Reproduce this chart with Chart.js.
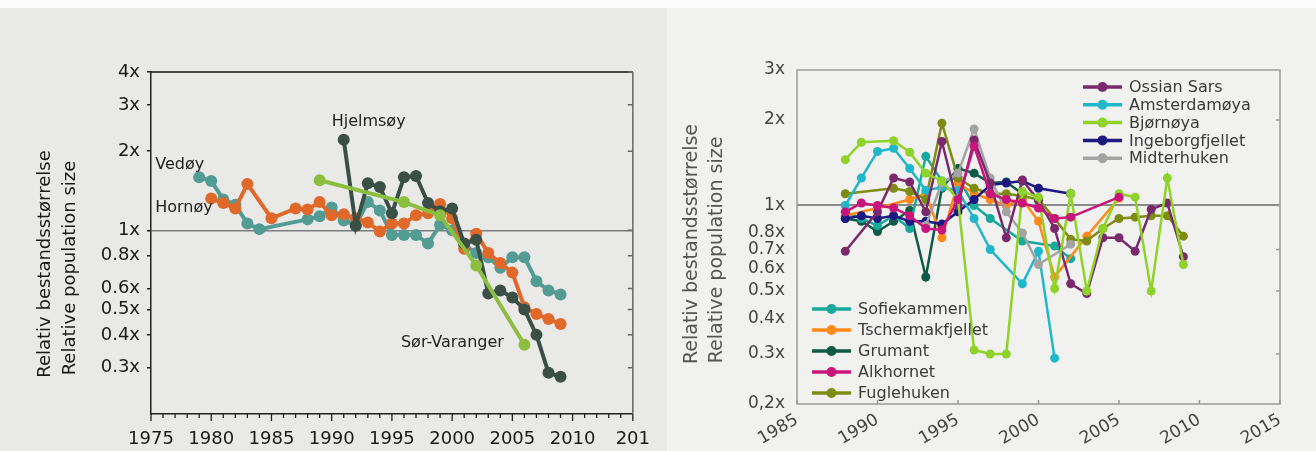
<!DOCTYPE html>
<html>
<head>
<meta charset="utf-8">
<script src="https://cdn.jsdelivr.net/npm/chart.js@4.4.0/dist/chart.umd.min.js"></script>
<style>
  html, body { margin: 0; padding: 0; }
  body { width: 1316px; height: 451px; background: #e9e9e8; position: relative; overflow: hidden; }
  #topStrip { position: absolute; left: 0; top: 0; width: 1316px; height: 8px; background: #fbfbfb; }
  #rightBg { position: absolute; left: 667px; top: 8px; width: 649px; height: 443px; background: #f1f1f0; }
  #leftWrap { position: absolute; left: 0; top: 0; width: 665px; height: 451px; }
  #rightWrap { position: absolute; left: 665px; top: 0; width: 651px; height: 451px; }
</style>
</head>
<body>
<div id="topStrip"></div>
<div id="rightBg"></div>
<div id="leftWrap"><canvas id="leftChart" width="665" height="451"></canvas></div>
<div id="rightWrap"><canvas id="rightChart" width="651" height="451"></canvas></div>
<script>
// ---- left panel: Finnmark colonies ----
const yearsVedoy = [1979, 1980, 1981, 1982, 1983, 1984, 1988, 1989, 1990, 1991, 1992, 1993, 1994, 1995, 1996, 1997, 1998, 1999, 2000, 2001, 2002, 2003, 2004, 2005, 2006, 2007, 2008, 2009];
const vedoy = [1.59, 1.54, 1.31, 1.25, 1.06, 1.01, 1.10, 1.13, 1.22, 1.09, 1.05, 1.28, 1.19, 0.96, 0.96, 0.96, 0.89, 1.05, 1.00, 0.88, 0.82, 0.79, 0.72, 0.79, 0.79, 0.64, 0.59, 0.57];
const yearsHornoy = [1980, 1981, 1982, 1983, 1985, 1987, 1988, 1989, 1990, 1991, 1992, 1993, 1994, 1995, 1996, 1997, 1998, 1999, 2000, 2001, 2002, 2003, 2004, 2005, 2006, 2007, 2008, 2009];
const hornoy = [1.32, 1.27, 1.21, 1.50, 1.11, 1.21, 1.20, 1.28, 1.14, 1.15, 1.11, 1.07, 0.99, 1.06, 1.06, 1.14, 1.16, 1.26, 1.11, 0.85, 0.97, 0.82, 0.75, 0.69, 0.51, 0.48, 0.46, 0.44];
const yearsHjelmsoy = [1991, 1992, 1993, 1994, 1995, 1996, 1997, 1998, 1999, 2000, 2001, 2002, 2003, 2004, 2005, 2006, 2007, 2008, 2009];
const hjelmsoy = [2.21, 1.04, 1.51, 1.46, 1.16, 1.59, 1.61, 1.27, 1.18, 1.21, 0.89, 0.92, 0.575, 0.59, 0.555, 0.50, 0.40, 0.287, 0.277];
const yearsSorVaranger = [1989, 1996, 1999, 2002, 2006];
const sorVaranger = [1.55, 1.28, 1.14, 0.735, 0.367];

const leftYTicks = [0.3, 0.4, 0.5, 0.6, 0.8, 1, 2, 3, 4];
const leftXLabels = [1975, 1980, 1985, 1990, 1995, 2000, 2005, 2010, 2015];

// ---- right panel: Svalbard colonies ----
const yearsOssian = [1988, 1990, 1991, 1992, 1993, 1994, 1995, 1996, 1997, 1998, 1999, 2000, 2001, 2002, 2003, 2004, 2005, 2006, 2007, 2008, 2009];
const ossianSars = [0.69, 0.95, 1.25, 1.21, 0.95, 1.68, 1.0, 1.7, 1.2, 0.77, 1.23, 1.04, 0.83, 0.53, 0.49, 0.77, 0.77, 0.69, 0.97, 1.02, 0.66];
const yearsAmsterdam = [1988, 1989, 1990, 1991, 1992, 1993, 1994, 1995, 1996, 1997, 1999, 2000, 2001];
const amsterdamoya = [1.0, 1.25, 1.55, 1.59, 1.35, 1.13, 1.16, 1.13, 0.9, 0.7, 0.53, 0.69, 0.29];
const yearsBjornoya = [1988, 1989, 1991, 1992, 1993, 1994, 1995, 1996, 1997, 1998, 1999, 2000, 2001, 2002, 2003, 2004, 2005, 2006, 2007, 2008, 2009];
const bjornoya = [1.45, 1.67, 1.69, 1.54, 1.3, 1.22, 1.05, 0.31, 0.30, 0.30, 1.12, 1.07, 0.51, 1.1, 0.5, 0.83, 1.1, 1.07, 0.5, 1.25, 0.62];
const yearsIngeborg = [1988, 1989, 1990, 1991, 1992, 1993, 1994, 1995, 1996, 1997, 1998, 1999, 2000, 2002];
const ingeborgfjellet = [0.9, 0.92, 0.9, 0.92, 0.88, 0.88, 0.86, 0.95, 1.05, 1.18, 1.2, 1.22, 1.15, 1.1];
const yearsMidterhuken = [1993, 1994, 1995, 1996, 1997, 1998, 1999, 2000, 2002];
const midterhuken = [0.85, 1.2, 1.3, 1.86, 1.25, 0.95, 0.8, 0.62, 0.73];
const yearsSofiekammen = [1988, 1989, 1990, 1991, 1992, 1993, 1994, 1995, 1996, 1997, 1999, 2001, 2002];
const sofiekammen = [0.95, 0.9, 0.85, 0.92, 0.83, 1.49, 1.22, 1.25, 1.0, 0.9, 0.75, 0.72, 0.65];
const yearsTschermak = [1988, 1990, 1992, 1993, 1994, 1995, 1996, 1997, 1998, 1999, 2000, 2001, 2003, 2005];
const tschermakfjellet = [0.92, 0.98, 1.05, 1.1, 0.77, 1.2, 1.1, 1.05, 1.0, 1.05, 0.88, 0.56, 0.78, 1.06];
const yearsGrumant = [1988, 1989, 1990, 1991, 1992, 1993, 1994, 1995, 1996, 1997, 1998, 1999];
const grumant = [0.9, 0.88, 0.81, 0.88, 0.96, 0.56, 1.15, 1.35, 1.3, 1.2, 1.21, 1.1];
const yearsAlkhornet = [1988, 1989, 1990, 1991, 1992, 1993, 1994, 1995, 1996, 1997, 1998, 1999, 2000, 2001, 2002, 2005];
const alkhornet = [0.95, 1.02, 1.0, 0.98, 0.92, 0.83, 0.82, 1.05, 1.62, 1.1, 1.05, 1.02, 0.98, 0.9, 0.91, 1.07];
const yearsFuglehuken = [1988, 1991, 1992, 1993, 1994, 1995, 1996, 1997, 1998, 1999, 2000, 2001, 2002, 2003, 2004, 2005, 2006, 2007, 2008, 2009];
const fuglehuken = [1.1, 1.15, 1.12, 1.05, 1.95, 1.25, 1.15, 1.1, 1.1, 1.08, 1.05, 0.9, 0.76, 0.75, 0.83, 0.9, 0.91, 0.92, 0.92, 0.78];

const rightYTicks = [0.2, 0.3, 0.4, 0.5, 0.6, 0.7, 0.8, 1, 2, 3];
const rightYLabels = ['0,2x', '0.3x', '0.4x', '0.5x', '0.6x', '0.7x', '0.8x', '1x', '2x', '3x'];
const rightXTicks = [1985, 1990, 1995, 2000, 2005, 2010, 2015];

const FONT = 'DejaVu Sans';
Chart.defaults.font.family = FONT;

function series(label, years, values, color, width, radius) {
    return {
        label: label,
        data: years.map((yr, i) => ({ x: yr, y: values[i] })),
        borderColor: color,
        backgroundColor: color,
        pointBackgroundColor: color,
        pointBorderWidth: 0,
        pointRadius: radius,
        borderWidth: width,
        tension: 0,
        fill: false
    };
}

function rotatedText(ctx, text, x, y, font, color) {
    ctx.save();
    ctx.translate(x, y);
    ctx.rotate(-Math.PI / 2);
    ctx.font = font;
    ctx.fillStyle = color;
    ctx.textAlign = 'center';
    ctx.textBaseline = 'middle';
    ctx.fillText(text, 0, 0);
    ctx.restore();
}

const leftDecor = {
    id: 'leftDecor',
    afterDraw(chart) {
        const { ctx, chartArea: a, scales: { x, y } } = chart;
        ctx.save();
        // top border
        ctx.strokeStyle = '#111';
        ctx.lineWidth = 1.5;
        ctx.beginPath();
        ctx.moveTo(a.left, a.top);
        ctx.lineTo(a.right, a.top);
        ctx.stroke();
        // right border with inward ticks
        ctx.strokeStyle = '#666';
        ctx.beginPath();
        ctx.moveTo(a.right, a.top);
        ctx.lineTo(a.right, a.bottom);
        leftYTicks.forEach(v => {
            const py = y.getPixelForValue(v);
            ctx.moveTo(a.right, py);
            ctx.lineTo(a.right - 5, py);
        });
        ctx.stroke();
        // year ticks on x axis
        ctx.strokeStyle = '#222';
        ctx.lineWidth = 1.3;
        ctx.beginPath();
        for (let yr = 1975; yr <= 2015; yr++) {
            const px = x.getPixelForValue(yr);
            ctx.moveTo(px, a.bottom);
            ctx.lineTo(px, a.bottom + (yr % 5 === 0 ? 7 : 4));
        }
        ctx.stroke();
        // colony names
        ctx.font = '16px ' + FONT;
        ctx.fillStyle = '#222';
        ctx.textBaseline = 'middle';
        ctx.textAlign = 'left';
        ctx.fillText('Vedøy', x.getPixelForValue(1975.35), y.getPixelForValue(1.77));
        ctx.fillText('Hornøy', x.getPixelForValue(1975.35), y.getPixelForValue(1.22));
        ctx.fillText('Hjelmsøy', x.getPixelForValue(1990.0), y.getPixelForValue(2.58));
        ctx.fillText('Sør-Varanger', x.getPixelForValue(1995.75), y.getPixelForValue(0.372));
        ctx.restore();
        // axis title
        rotatedText(ctx, 'Relativ bestandsstørrelse', 45, 264, '18px ' + FONT, '#1a1a1a');
        rotatedText(ctx, 'Relative population size', 70, 268, '18px ' + FONT, '#1a1a1a');
    }
};

new Chart(document.getElementById('leftChart'), {
    type: 'line',
    data: {
        datasets: [
            series('Sør-Varanger', yearsSorVaranger, sorVaranger, '#8cbf40', 4, 6),
            series('Hjelmsøy', yearsHjelmsoy, hjelmsoy, '#3a5047', 4, 6),
            series('Hornøy', yearsHornoy, hornoy, '#e0692a', 4, 6),
            series('Vedøy', yearsVedoy, vedoy, '#529c94', 4, 6)
        ]
    },
    options: {
        responsive: false,
        animation: false,
        layout: { padding: { top: 72, right: 24, left: 0, bottom: 0 } },
        plugins: { legend: { display: false }, tooltip: { enabled: false } },
        scales: {
            x: {
                type: 'linear', min: 1975, max: 2015,
                afterBuildTicks: s => { s.ticks = leftXLabels.map(v => ({ value: v })); },
                afterFit: s => { s.height = 37; },
                grid: { display: false, drawTicks: false },
                border: { color: '#222', width: 1.5 },
                ticks: {
                    autoSkip: false, maxRotation: 0, padding: 15, color: '#1a1a1a',
                    font: { size: 18 },
                    callback: v => v === 2015 ? '201' : String(v)
                }
            },
            y: {
                type: 'logarithmic', min: 0.2, max: 4,
                afterBuildTicks: s => { s.ticks = leftYTicks.map(v => ({ value: v })); },
                afterFit: s => { s.width = 151; },
                grid: {
                    color: c => (c.tick && c.tick.value === 1) ? '#7d7d7d' : 'rgba(0,0,0,0)',
                    lineWidth: 1.5,
                    drawTicks: true, tickLength: 4, tickColor: '#222'
                },
                border: { color: '#222', width: 1.5 },
                ticks: {
                    padding: 7, color: '#1a1a1a', font: { size: 18 },
                    callback: v => v + 'x'
                }
            }
        }
    },
    plugins: [leftDecor]
});

// ---- right panel ----
const rightLegendTop = [
    ['Ossian Sars', '#7a2a6c'],
    ['Amsterdamøya', '#1fb7c9'],
    ['Bjørnøya', '#8fd22a'],
    ['Ingeborgfjellet', '#1c1a82'],
    ['Midterhuken', '#a3a3a3']
];
const rightLegendBottom = [
    ['Sofiekammen', '#17a99b'],
    ['Tschermakfjellet', '#ff8a1a'],
    ['Grumant', '#0e5a47'],
    ['Alkhornet', '#c9157b'],
    ['Fuglehuken', '#7e8c14']
];

function drawLegend(ctx, items, x0, y0, step) {
    ctx.save();
    ctx.font = '16px ' + FONT;
    ctx.textBaseline = 'middle';
    ctx.textAlign = 'left';
    items.forEach((it, i) => {
        const yy = y0 + i * step;
        ctx.strokeStyle = it[1];
        ctx.fillStyle = it[1];
        ctx.lineWidth = 3.5;
        ctx.beginPath();
        ctx.moveTo(x0, yy);
        ctx.lineTo(x0 + 39, yy);
        ctx.stroke();
        ctx.beginPath();
        ctx.arc(x0 + 19.5, yy, 5, 0, Math.PI * 2);
        ctx.fill();
        ctx.fillStyle = '#3a3a3a';
        ctx.fillText(it[0], x0 + 46, yy + 1);
    });
    ctx.restore();
}

const rightDecor = {
    id: 'rightDecor',
    afterDraw(chart) {
        const { ctx, chartArea: a, scales: { x, y } } = chart;
        ctx.save();
        ctx.strokeStyle = '#9a9a9a';
        ctx.lineWidth = 1.5;
        ctx.strokeRect(a.left, a.top, a.right - a.left, a.bottom - a.top);
        ctx.beginPath();
        [2, 1, 0.7, 0.5, 0.3].forEach(v => {
            const py = y.getPixelForValue(v);
            ctx.moveTo(a.right, py);
            ctx.lineTo(a.right - 4, py);
        });
        rightXTicks.forEach(v => {
            const px = x.getPixelForValue(v);
            ctx.moveTo(px, a.bottom);
            ctx.lineTo(px, a.bottom - 4);
        });
        ctx.stroke();
        ctx.restore();
        drawLegend(ctx, rightLegendTop, 1083 - 665, 87, 17.8);
        drawLegend(ctx, rightLegendBottom, 812 - 665, 309, 21);
        rotatedText(ctx, 'Relativ bestandsstørrelse', 692 - 665, 244, '19px ' + FONT, '#555');
        rotatedText(ctx, 'Relative population size', 717 - 665, 250, '19px ' + FONT, '#555');
    }
};

new Chart(document.getElementById('rightChart'), {
    type: 'line',
    data: {
        datasets: [
            series('Alkhornet', yearsAlkhornet, alkhornet, '#c9157b', 2.5, 4.5),
            series('Bjørnøya', yearsBjornoya, bjornoya, '#8fd22a', 2.5, 4.5),
            series('Ossian Sars', yearsOssian, ossianSars, '#7a2a6c', 2.5, 4.5),
            series('Midterhuken', yearsMidterhuken, midterhuken, '#a3a3a3', 2.5, 4.5),
            series('Amsterdamøya', yearsAmsterdam, amsterdamoya, '#1fb7c9', 2.5, 4.5),
            series('Ingeborgfjellet', yearsIngeborg, ingeborgfjellet, '#1c1a82', 2.5, 4.5),
            series('Fuglehuken', yearsFuglehuken, fuglehuken, '#7e8c14', 2.5, 4.5),
            series('Tschermakfjellet', yearsTschermak, tschermakfjellet, '#ff8a1a', 2.5, 4.5),
            series('Sofiekammen', yearsSofiekammen, sofiekammen, '#17a99b', 2.5, 4.5),
            series('Grumant', yearsGrumant, grumant, '#0e5a47', 2.5, 4.5)
        ]
    },
    options: {
        responsive: false,
        animation: false,
        layout: { padding: { top: 70, right: 36, left: 0, bottom: 0 } },
        plugins: { legend: { display: false }, tooltip: { enabled: false } },
        scales: {
            x: {
                type: 'linear', min: 1985, max: 2015,
                afterBuildTicks: s => { s.ticks = rightXTicks.map(v => ({ value: v })); },
                afterFit: s => { s.height = 47; },
                grid: { display: false, drawTicks: false },
                border: { display: false },
                ticks: {
                    autoSkip: false, minRotation: 30, maxRotation: 30, padding: 6,
                    color: '#444', font: { size: 17 },
                    callback: v => String(v)
                }
            },
            y: {
                type: 'logarithmic', min: 0.2, max: 3,
                afterBuildTicks: s => { s.ticks = rightYTicks.map(v => ({ value: v })); },
                afterFit: s => { s.width = 132; },
                grid: {
                    color: c => (c.tick && c.tick.value === 1) ? '#8a8a8a' : 'rgba(0,0,0,0)',
                    lineWidth: 2,
                    drawTicks: false
                },
                border: { display: false },
                ticks: {
                    padding: 12, color: '#444', font: { size: 17 },
                    callback: (v, i) => rightYLabels[i]
                }
            }
        }
    },
    plugins: [rightDecor]
});
</script>
</body>
</html>
